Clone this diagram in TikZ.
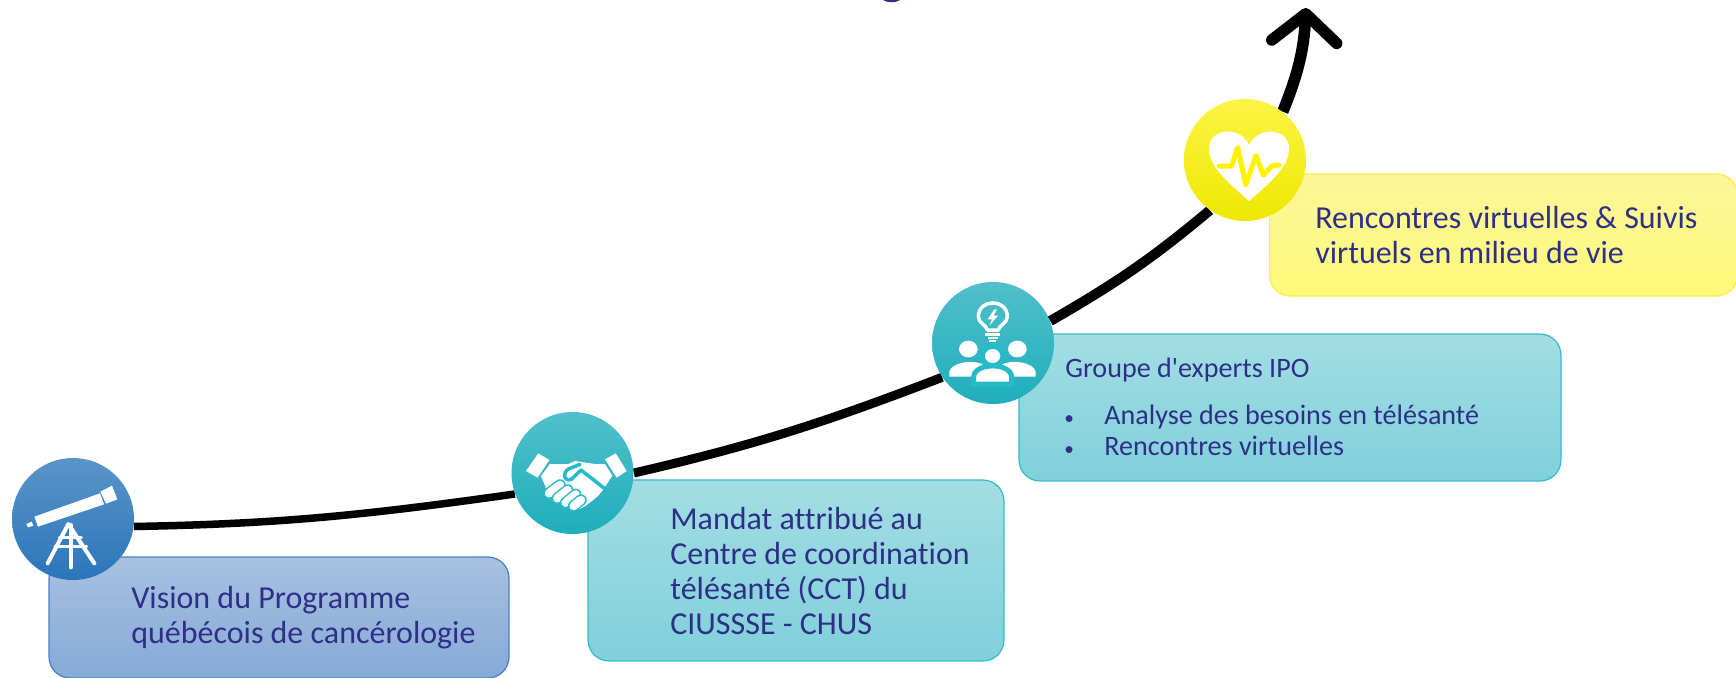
\documentclass[tikz,border=0pt]{standalone}
\usepackage{fontspec}
\setmainfont[Ligatures=NoCommon]{Carlito}
\usetikzlibrary{arrows.meta,backgrounds,positioning}
\definecolor{txtblue}{HTML}{2E3087}
\definecolor{tealline}{HTML}{35BAC6}
\definecolor{teallight}{HTML}{A4DDE4}
\definecolor{tealdark}{HTML}{7FD0DA}
\definecolor{tealrim}{HTML}{26BBC9}
\definecolor{panelline}{HTML}{4A7FC0}
\definecolor{panela}{HTML}{A8C1E0}
\definecolor{panelb}{HTML}{86A9D8}
\definecolor{yellowline}{HTML}{F8F040}
\definecolor{yellowa}{HTML}{FDF69A}
\definecolor{yellowb}{HTML}{FFF97A}
\definecolor{discba}{HTML}{5B94C8}
\definecolor{discbb}{HTML}{2F83C9}
\definecolor{discbc}{HTML}{2A76BA}
\definecolor{discta}{HTML}{50BFCB}
\definecolor{disctc}{HTML}{1FAEBC}
\definecolor{discya}{HTML}{FBF445}
\definecolor{discyc}{HTML}{EEE800}
\tikzset{
  txtbig/.style={font=\fontsize{18.2}{19.75}\selectfont,text=txtblue,align=left,inner sep=0pt,anchor=west},
  txtmid/.style={font=\fontsize{16}{17.6}\selectfont,text=txtblue,align=left,inner sep=0pt,anchor=west},
  panel/.style={rectangle,rounded corners=0.42cm,line width=0.7pt},
  panelblue/.style={panel,draw=panelline,top color=panela,bottom color=panelb},
  panelteal/.style={panel,draw=tealline,top color=teallight,bottom color=tealdark},
  panelyellow/.style={panel,draw=yellowline,top color=yellowa,bottom color=yellowb},
  disc/.style={circle,minimum size=2.44cm,inner sep=0pt},
  discblue/.style={disc,top color=discba,middle color=discbb,bottom color=discbc},
  discteal/.style={disc,top color=discta,middle color=tealrim,bottom color=disctc},
  discyellow/.style={disc,top color=discya,middle color=yellow,bottom color=discyc},
  trend/.style={draw=black,line cap=butt,line join=round},
  glyph/.style={draw=white,line cap=round,line join=round}
}
\newcommand{\puce}{\makebox[0.8cm][l]{{\fontsize{11}{11}\selectfont •}}}
\begin{document}
\begin{tikzpicture}[x=0.02cm,y=-0.02cm]
\useasboundingbox (0,0) rectangle (1736,677);
% panels
\node[panelblue,minimum width=9.2cm,minimum height=2.42cm] (pvision) at (279,617.5) {};
\node[panelteal,minimum width=8.32cm,minimum height=3.62cm] (pmandat) at (796,570.5) {};
\node[panelteal,minimum width=10.84cm,minimum height=2.94cm] (pgroupe) at (1290,407.5) {};
\node[panelyellow,minimum width=9.36cm,minimum height=2.44cm] (pvirtuel) at (1503.5,235) {};
% discs
\node[discblue] (tele) at (73,519) {};
\node[discteal] (hand) at (572.5,473) {};
\node[discteal] (experts) at (993,343) {};
\node[discyellow] (coeur) at (1245,160) {};
\coordinate (tip) at (1306,8);
% texts
\node[txtbig] (tvision) at (131,617.5) {Vision du Programme\\québécois de cancérologie};
\node[txtbig] (tmandat) at (670,571) {Mandat attribué au\\Centre de coordination\\télésanté (CCT) du\\CIUSSSE - CHUS};
\node[txtmid] (tgroupe) at (1065,370) {Groupe d\textquotesingle experts IPO};
\node[txtmid] (tbesoins) at (1064,430) {\puce Analyse des besoins en télésanté\\\puce Rencontres virtuelles};
\node[txtbig] (tvirtuel) at (1315,235) {Rencontres virtuelles \& Suivis\\virtuels en milieu de vie};
% rising line
\begin{scope}[on background layer]
\draw[trend,line width=0.15cm] (tele.-7) to[out=1,in=188] (hand.200);
\draw[trend,line width=0.18cm] (hand.0) to[out=13,in=201] (experts.214);
\draw[trend,line width=0.2cm] (experts.21) to[out=30,in=220] (coeur.235);
\draw[trend,line width=0.23cm,-{Straight Barb[round,length=0.56cm,width=1.3cm]}] (coeur.52) to[out=68,in=267] (tip);
\end{scope}
% cut off letter at the top
\fill[txtblue] (883,0) .. controls (887,3) and (896,3) .. (900,0) -- cycle;
% telescope
\begin{scope}[shift={(0,450)},scale=1/3]
\fill[white] (103,200) -- (300,130) -- (312,163) -- (114,230) -- cycle;
\fill[white] (301,125) -- (336,107) -- (352,148) -- (318,161) -- cycle;
\fill[white] (79,222) -- (95,215) -- (100,227) -- (84,232) -- cycle;
\draw[glyph,line width=0.08cm] (143,340) -- (205,222) -- (283,340);
\draw[glyph,line width=0.08cm] (212,225) -- (212,352);
\draw[glyph,line width=0.06cm] (178,262) -- (244,262) (165,290) -- (260,290);
\end{scope}
% handshake
\begin{scope}[shift={(505,405)},scale=1/3]
\fill[white] (100,145) -- (133,165) -- (98,218) -- (63,198) -- cycle;
\fill[white] (332,145) -- (365,198) -- (335,218) -- (300,163) -- cycle;
\fill[white] (108,213) -- (135,177) -- (190,177) -- (210,168) -- (270,177) -- (300,177) -- (322,212) -- (297,250) -- (280,272) -- (262,287) -- (245,300) -- (225,312) -- (200,290) -- (130,265) -- cycle;
\draw[draw=tealrim,line width=0.07cm,line cap=round,line join=round] (225,178) -- (190,192) .. controls (172,205) and (175,228) .. (198,224) -- (228,195) -- (298,250);
\foreach \xa/\ya/\xb/\yb in {132/265/165/240,157/280/188/255,182/293/212/268,206/303/228/285}
  {\draw[tealrim,line width=0.23cm,line cap=round] (\xa,\ya) -- (\xb,\yb);
   \draw[white,line width=0.17cm,line cap=round] (\xa,\ya) -- (\xb,\yb);}
\end{scope}
% bulb and people
\begin{scope}[shift={(925,275)},scale=1/3]
\draw[glyph,line width=0.07cm] (187,165) .. controls (185,150) and (160,145) .. (160,125) .. controls (160,70) and (247,70) .. (247,125) .. controls (247,145) and (222,150) .. (220,165) -- cycle;
\fill[white] (208,103) -- (188,133) -- (201,133) -- (193,152) -- (219,122) -- (206,122) -- (216,103) -- cycle;
\fill[white] (181,175) rectangle (226,182);
\fill[white] (188,185) rectangle (219,192);
\fill[white] (193,195) rectangle (213,200);
\fill[white] (130,222) ellipse [x radius=28,y radius=25];
\fill[white] (277,222) ellipse [x radius=28,y radius=25];
\fill[white] (73,305) -- (73,290) .. controls (78,262) and (150,250) .. (180,272) -- (180,305) -- cycle;
\fill[white] (332,305) -- (332,290) .. controls (327,262) and (255,250) .. (225,272) -- (225,305) -- cycle;
\path[fill=white,draw=tealrim,line width=0.1cm] (203,243) ellipse [x radius=31,y radius=29];
\path[fill=white,draw=tealrim,line width=0.1cm] (146,327) -- (146,305) .. controls (150,262) and (256,262) .. (260,305) -- (260,327) -- cycle;
\end{scope}
% heart
\begin{scope}[shift={(1175,90)},scale=1/3]
\fill[white] (222,333) .. controls (170,285) and (102,235) .. (102,175) .. controls (102,115) and (195,105) .. (222,165) .. controls (250,105) and (342,115) .. (342,175) .. controls (342,235) and (275,285) .. (222,333) -- cycle;
\draw[yellow,line width=0.1cm,line join=round,line cap=round] (133,228) -- (170,228) -- (188,172) -- (212,285) -- (243,197) -- (265,255) -- (290,228) -- (312,225);
\end{scope}
\end{tikzpicture}
\end{document}
